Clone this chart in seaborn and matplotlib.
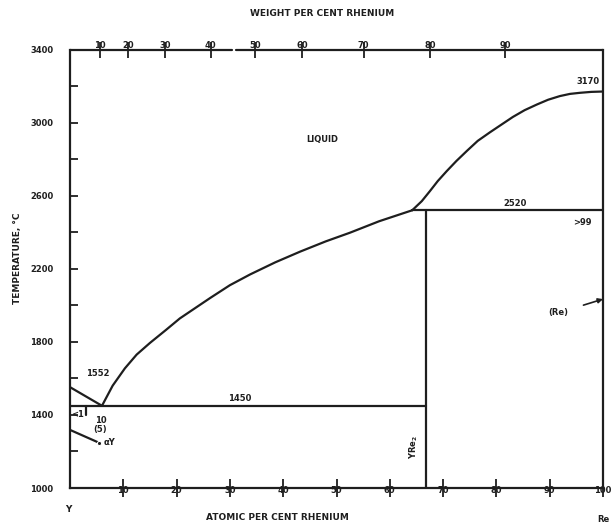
import matplotlib
matplotlib.use("Agg")
import matplotlib.pyplot as plt
import pandas as pd
import seaborn as sns

# ---- Y-Re phase diagram data (atomic % Re, temperature in deg C) ----
# liquidus, Y-rich side down to the eutectic
liq_y_x = [0, 6]
liq_y_t = [1552, 1450]
# liquidus from the eutectic up to the peritectic point
liq_mid_x = [6, 8, 10.3, 12.5, 15, 18, 20.6, 23.5, 26.3, 30, 33.8, 38.5,
             43.2, 48, 52.5, 58, 64.2]
liq_mid_t = [1450, 1560, 1655, 1730, 1794, 1865, 1928, 1985, 2040, 2110,
             2169, 2235, 2294, 2350, 2397, 2460, 2520]
# liquidus from the peritectic point up to the melting point of Re
liq_re_x = [64.2, 66, 67.5, 69, 70.7, 72.5, 74.5, 76.5, 78.8, 81, 83.1,
            85.3, 87.6, 89.7, 91.9, 93.8, 95.7, 97.8, 100]
liq_re_t = [2520, 2570, 2624, 2680, 2735, 2790, 2846, 2900, 2947, 2990,
            3031, 3068, 3099, 3125, 3145, 3157, 3163, 3168, 3170]
# invariant horizontals
eut_x = [0, 66.7]
eut_t = [1450, 1450]
peri_x = [64.2, 100]
peri_t = [2520, 2520]
# YRe2 line compound
yre2_x = [66.7, 66.7]
yre2_t = [1000, 2520]
# alpha-Y transformation leader
alpha_x = [0, 5.5]
alpha_t = [1318, 1247]
# solvus stub
solv_x = [3, 3]
solv_t = [1450, 1400]

# axes ticks
at_ticks = [10, 20, 30, 40, 50, 60, 70, 80, 90, 100]
temp_major = [1000, 1400, 1800, 2200, 2600, 3000, 3400]
temp_minor = [1200, 1600, 2000, 2400, 2800, 3200]
wt_labels = ["10", "20", "30", "40", "50", "60", "70", "80", "90"]
wt_pos = [5.6, 10.9, 17.8, 26.4, 34.7, 43.5, 55.1, 67.5, 81.6]

sns.set_theme(style="white")
plt.rcParams["font.family"] = ["DejaVu Sans"]
plt.rcParams["font.weight"] = "bold"

INK = "#1e1e1e"
LW = 1.6

fig = plt.figure(figsize=(6.12, 5.29), dpi=100)
ax = fig.add_axes([70 / 612, 1 - 488 / 529, 533 / 612, 438.5 / 529])
ax.set_xlim(0, 100)
ax.set_ylim(1000, 3400)


def seg(xs, ts, **kw):
    df = pd.DataFrame({"x": xs, "t": ts})
    sns.lineplot(data=df, x="x", y="t", ax=ax, color=INK, lw=LW,
                 estimator=None, sort=False, **kw)


for xs, ts in [(liq_y_x, liq_y_t), (liq_mid_x, liq_mid_t), (liq_re_x, liq_re_t),
               (eut_x, eut_t), (peri_x, peri_t), (yre2_x, yre2_t),
               (solv_x, solv_t)]:
    seg(xs, ts)
seg(alpha_x, alpha_t, marker="o", markersize=3, markevery=[1])

for sp in ax.spines.values():
    sp.set_color(INK)
    sp.set_linewidth(LW)
ax.spines["top"].set_visible(False)
# top border, broken near the middle
ax.plot([0, 30.4], [3400, 3400], color=INK, lw=LW, clip_on=False)
ax.plot([31.2, 100], [3400, 3400], color=INK, lw=LW, clip_on=False)

ax.set_xlabel("")
ax.set_ylabel("")
ax.set_xticks(at_ticks)
ax.set_xticklabels([str(v) for v in at_ticks], fontsize=6, fontweight="bold")
ax.tick_params(axis="x", direction="inout", length=13, width=1.3,
               color=INK, pad=-8, labelcolor=INK)
ax.set_yticks(temp_major)
ax.set_yticklabels([str(v) for v in temp_major], fontsize=6, fontweight="bold")
ax.set_yticks(temp_minor, minor=True)
ax.tick_params(axis="y", which="both", direction="in", length=6, width=1.3,
               color=INK, pad=12, labelcolor=INK, left=True)

# top axis: weight per cent
ax2 = ax.twiny()
ax2.set_xlim(0, 100)
for sp in ax2.spines.values():
    sp.set_visible(False)
ax2.set_xticks(wt_pos)
ax2.set_xticklabels(wt_labels, fontsize=6, fontweight="bold")
ax2.tick_params(axis="x", direction="inout", length=11, width=1.3,
                color=INK, pad=-6, labelcolor=INK)
ax2.grid(False)
ax.grid(False)

# annotations
tk = dict(color=INK, fontweight="bold", fontsize=6)
ax.text(47.3, 2905, "LIQUID", ha="center", va="center", **tk)
ax.text(5.3, 1625, "1552", ha="center", va="center", **tk)
ax.text(31.9, 1465, "1450", ha="center", va="bottom", **tk)
ax.text(83.5, 2535, "2520", ha="center", va="bottom", **tk)
ax.text(96.2, 2455, ">99", ha="center", va="center", **tk)
ax.text(97.2, 3225, "3170", ha="center", va="center", **tk)
ax.text(1.4, 1405, "<1", ha="center", va="center", **tk)
ax.text(5.7, 1345, "10\n(5)", ha="center", va="center", linespacing=0.9, **tk)
ax.text(6.3, 1247, "αY", ha="left", va="center", **tk)
ax.text(64.4, 1225, "YRe$_2$", ha="center", va="center", rotation=90, **tk)
ax.annotate("(Re)", xy=(100, 2034), xytext=(91.6, 1958),
            ha="center", va="center", **tk,
            arrowprops=dict(arrowstyle="-|>", color=INK, lw=1.2,
                            shrinkA=9, shrinkB=0, mutation_scale=7))

fig.text(322 / 612, 1 - 14 / 529, "WEIGHT PER CENT RHENIUM", ha="center",
         va="center", fontsize=6.5, fontweight="bold", color=INK)
fig.text(277 / 612, 1 - 518 / 529, "ATOMIC PER CENT RHENIUM", ha="center",
         va="center", fontsize=6.5, fontweight="bold", color=INK)
fig.text(18 / 612, 1 - 258 / 529, "TEMPERATURE, °C", ha="center",
         va="center", rotation=90, fontsize=6.5, fontweight="bold", color=INK)
fig.text(68 / 612, 1 - 510 / 529, "Y", ha="center", va="center",
         fontsize=6.5, fontweight="bold", color=INK)
fig.text(603 / 612, 1 - 520 / 529, "Re", ha="center", va="center",
         fontsize=6, fontweight="bold", color=INK)

fig.savefig("out.png", dpi=100, facecolor="white")
